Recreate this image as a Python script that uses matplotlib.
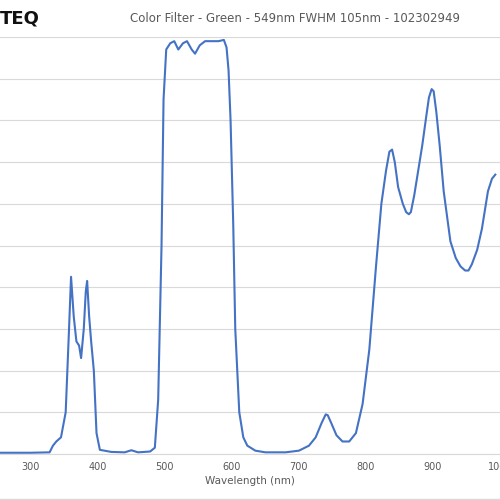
import matplotlib.pyplot as plt
import numpy as np

wl = [254, 300, 328, 333, 338, 345, 352, 357, 360, 364, 368, 372, 375, 379, 382, 384, 387, 390, 394, 398, 403,
      420, 440, 450, 460, 478, 485, 490, 495, 498, 502, 508, 514, 520, 527, 533, 540, 545, 552, 560, 570, 580, 588,
      592, 595, 598, 602, 605, 611, 617, 623, 635, 650, 680, 700, 715, 725, 734, 740, 743, 748, 756, 765, 775, 785,
      795, 805, 815, 823, 830, 835, 839, 843, 848, 855, 860, 864, 867, 872, 878, 884, 890, 894, 898, 901, 905, 910,
      916, 926, 934, 941, 948, 953, 958, 966, 973, 982, 988, 993]
tr = [0.3, 0.3, 0.4, 2, 3, 4, 10, 30, 42.5, 33, 27, 26, 23, 30, 39, 41.5, 33, 27, 20, 5, 1,
      0.5, 0.4, 0.9, 0.4, 0.6, 1.5, 13, 50, 85, 97, 98.5, 99, 97, 98.5, 99, 97, 96, 98, 99, 99, 99, 99.3,
      97.5, 92, 80, 55, 30, 10, 4, 2, 0.8, 0.4, 0.4, 0.8, 2, 4, 7.5, 9.5, 9.3, 7.5, 4.5, 3, 3, 5,
      12, 25, 45, 60, 68, 72.5, 73, 70, 64, 60, 58, 57.5, 58, 62, 68, 74, 81, 85.5, 87.5, 87, 82, 74,
      63, 51, 47, 45, 44, 44, 45.5, 49, 54, 63, 66, 67]

fig = plt.figure(figsize=(5, 5), dpi=100)
ax = fig.add_axes([0, 0.092, 1, 0.834])
ax.plot(wl, tr, color='#4472c4', lw=1.5)
ax.set_xlim(254, 993)
ax.set_ylim(0, 100)
ax.set_yticks(np.arange(0, 101, 10))
ax.set_yticklabels([])
ax.set_xticks(np.arange(300, 1001, 100))
ax.tick_params(length=0, labelsize=7, labelcolor='#595959', pad=6)
ax.grid(axis='y', color='#d9d9d9', lw=0.8)
for s in ['top', 'left', 'right']:
    ax.spines[s].set_visible(False)
ax.spines['bottom'].set_color('#d9d9d9')
ax.set_xlabel('Wavelength (nm)', fontsize=7.5, color='#595959', labelpad=3)
fig.text(0.59, 0.962, 'Color Filter - Green - 549nm FWHM 105nm - 102302949', ha='center', va='center',
         fontsize=8.5, color='#595959')
fig.text(0.0, 0.962, 'TEQ', ha='left', va='center', fontsize=13, fontweight='bold', color='#111111')
fig.add_artist(plt.Line2D([0, 1], [0.002, 0.002], color='#d9d9d9', lw=1))
fig.savefig('out.png')
